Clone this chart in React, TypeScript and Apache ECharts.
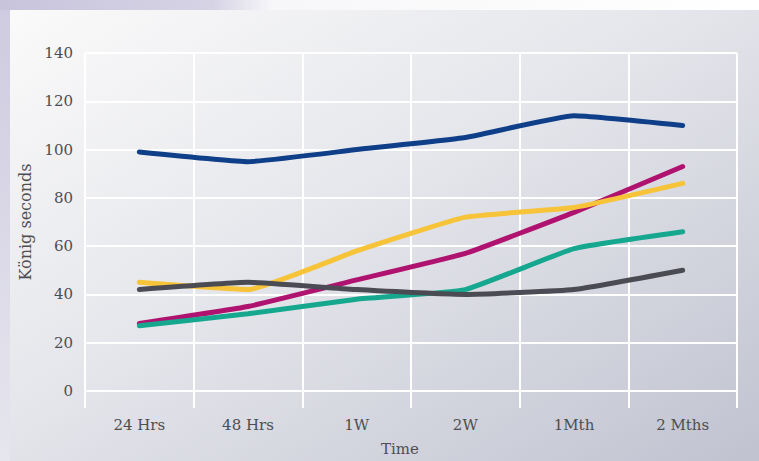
import React, { useEffect, useRef } from "react";
import * as echarts from "echarts";

const categories = ["24 Hrs", "48 Hrs", "1W", "2W", "1Mth", "2 Mths"];
const yTicks = [0, 20, 40, 60, 80, 100, 120, 140];
const blueSeries = [99, 95, 100, 105, 114, 110];
const magentaSeries = [28, 35, 46, 57, 74, 93];
const yellowSeries = [45, 42, 58, 72, 76, 86];
const tealSeries = [27, 32, 38, 42, 59, 66];
const graySeries = [42, 45, 42, 40, 42, 50];

const seriesList = [
  { name: "Blue", data: blueSeries, color: "#0f3f88" },
  { name: "Magenta", data: magentaSeries, color: "#b0136f" },
  { name: "Yellow", data: yellowSeries, color: "#f6c339" },
  { name: "Teal", data: tealSeries, color: "#15a88f" },
  { name: "Gray", data: graySeries, color: "#4b4b53" },
];

const FONT = "DejaVu Serif";
const TEXT = "#4e4e52";

export default function App() {
  const ref = useRef<HTMLDivElement>(null);
  useEffect(() => {
    document.body.style.margin = "0";
    if (!ref.current) return;
    const chart = echarts.init(ref.current, null, { renderer: "svg" });
    chart.setOption({
      animation: false,
      backgroundColor: new echarts.graphic.LinearGradient(0, 0, 1, 0, [
        { offset: 0, color: "#c8c4dc" },
        { offset: 0.28, color: "#d6d3e5" },
        { offset: 0.36, color: "#f7f7f9" },
        { offset: 1, color: "#ffffff" },
      ]),
      graphic: [
        {
          type: "rect",
          z: -10,
          silent: true,
          shape: { x: 0, y: 10, width: 10, height: 451 },
          style: {
            fill: new echarts.graphic.LinearGradient(0, 0, 0, 1, [
              { offset: 0, color: "#cfcbe0" },
              { offset: 1, color: "#e6e6ee" },
            ]),
          },
        },
        {
          type: "rect",
          z: -10,
          silent: true,
          shape: { x: 10, y: 10, width: 749, height: 451 },
          style: {
            fill: new echarts.graphic.LinearGradient(0, 0, 1, 1, [
              { offset: 0, color: "#fafafa" },
              { offset: 0.45, color: "#e5e6eb" },
              { offset: 1, color: "#c0c2d0" },
            ]),
          },
        },
      ],
      grid: { left: 85, right: 22, top: 53, bottom: 67, containLabel: false },
      xAxis: {
        type: "category",
        data: categories,
        boundaryGap: true,
        name: "Time",
        nameLocation: "middle",
        nameGap: 50,
        nameTextStyle: { fontFamily: FONT, fontSize: 15, color: TEXT, padding: [0, 22, 0, 0] },
        axisLine: { show: false },
        axisTick: { show: true, length: 17, lineStyle: { color: "#ffffff", width: 2 } },
        axisLabel: { margin: 26, fontFamily: FONT, fontSize: 15, color: TEXT },
        splitLine: { show: true, lineStyle: { color: "#ffffff", width: 2 } },
      },
      yAxis: {
        type: "value",
        min: yTicks[0],
        max: yTicks[yTicks.length - 1],
        interval: 20,
        name: "König seconds",
        nameLocation: "middle",
        nameGap: 52,
        nameTextStyle: { fontFamily: FONT, fontSize: 16, color: TEXT },
        axisLine: { show: false },
        axisTick: { show: false },
        axisLabel: { margin: 12, fontFamily: FONT, fontSize: 15, color: TEXT },
        splitLine: { show: true, lineStyle: { color: "#ffffff", width: 2 } },
      },
      series: seriesList.map((s) => ({
        name: s.name,
        type: "line",
        data: s.data,
        smooth: 0.12,
        symbol: "none",
        lineStyle: { color: s.color, width: 5, cap: "round" },
        itemStyle: { color: s.color },
      })),
    });
    return () => chart.dispose();
  }, []);
  return (
    <div
      ref={ref}
      style={{ position: "absolute", left: 0, top: 0, width: 759, height: 461 }}
    />
  );
}
